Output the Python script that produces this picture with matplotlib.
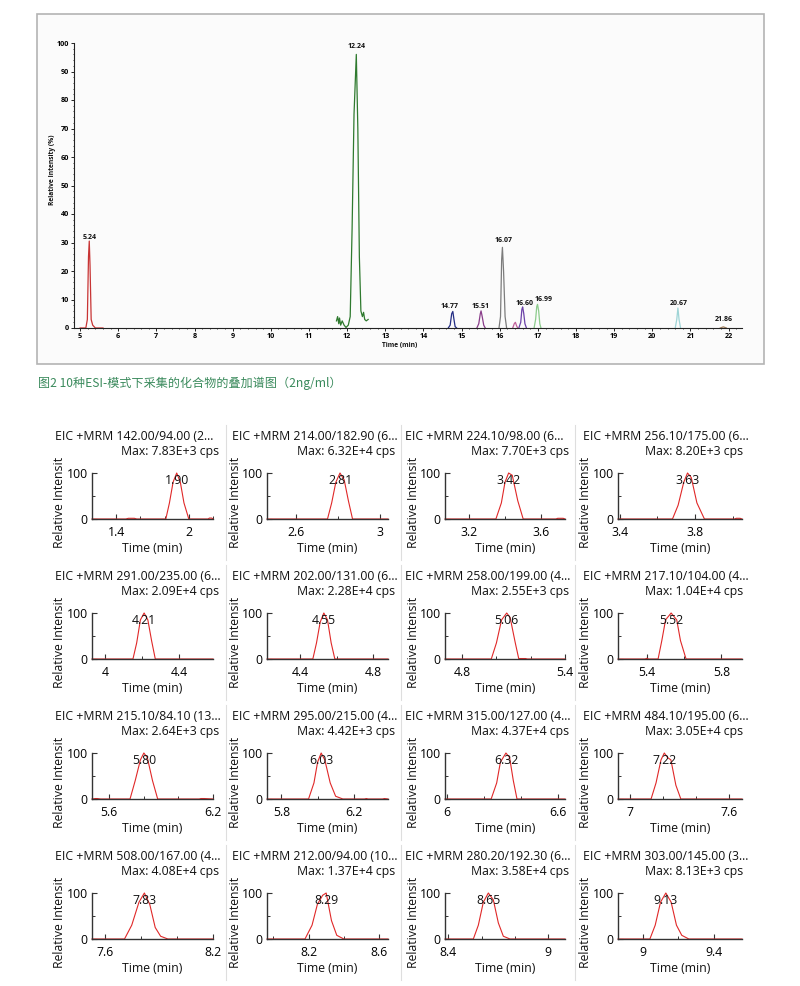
import numpy as np
import matplotlib
matplotlib.use("Agg")
import matplotlib.pyplot as plt
from matplotlib.ticker import FixedLocator, MultipleLocator, FuncFormatter
from matplotlib.transforms import Bbox
from matplotlib.patches import Rectangle
from matplotlib.lines import Line2D

W, H = 800, 986

# ---- overlay chromatogram (top) ----
top_times = [
    [5.00, 5.15, 5.19, 5.22, 5.24, 5.26, 5.29, 5.33, 5.40, 5.60],
    [11.72, 11.75, 11.78, 11.80, 11.83, 11.87, 11.92, 11.97, 12.03, 12.08, 12.13,
     12.18, 12.24, 12.28, 12.32, 12.36, 12.40, 12.43, 12.46, 12.50, 12.55],
    [14.65, 14.70, 14.74, 14.77, 14.80, 14.83, 14.87],
    [15.40, 15.45, 15.49, 15.51, 15.54, 15.58, 15.62],
    [15.98, 16.02, 16.05, 16.07, 16.10, 16.14, 16.18],
    [16.34, 16.38, 16.41, 16.44, 16.47],
    [16.50, 16.55, 16.58, 16.60, 16.63, 16.66, 16.70],
    [16.90, 16.94, 16.97, 16.99, 17.02, 17.05, 17.08],
    [20.60, 20.64, 20.67, 20.70, 20.74],
    [21.78, 21.86, 21.94],
]
top_intens = [
    [0, 0, 3, 25, 30.5, 22, 3, 1, 0, 0],
    [2.5, 4, 1.5, 3.5, 1, 2.5, 1, 0.2, 1, 4, 35, 75, 96, 70, 25, 6, 4, 5.5, 3, 2.5, 3],
    [0, 1, 5, 5.8, 3, 0.5, 0],
    [0, 1.5, 5, 6, 4, 1, 0],
    [0, 4, 24, 28.3, 20, 4, 0],
    [0, 1.5, 2, 0.8, 0],
    [0, 2, 6.5, 7.4, 5, 1.5, 0],
    [0, 3, 7.5, 8.3, 6, 1.5, 0],
    [0, 3, 7, 3, 0],
    [0, 0.4, 0],
]
top_peak_labels = ["5.24", "12.24", "14.77", "15.51", "16.07", "", "16.60", "16.99", "20.67", "21.86"]
top_colors = ["#c83434", "#2f7a2f", "#232d84", "#8a3d8a", "#7c7c7c", "#c0609a",
              "#6b42a8", "#8ccc8c", "#9ed4d6", "#a08060"]
top_label_offsets = [(0, 4), (0, 8), (-3, 5), (0, 4), (1, 7), (0, 0), (2, 3), (6, 5), (1, 5), (0, 7)]

caption = "图2 10种ESI-模式下采集的化合物的叠加谱图（2ng/ml）"

# ---- EIC panels (bottom grid) ----
eic_titles = [
    "EIC +MRM 142.00/94.00 (2...", "EIC +MRM 214.00/182.90 (6...",
    "EIC +MRM 224.10/98.00 (6...", "EIC +MRM 256.10/175.00 (6...",
    "EIC +MRM 291.00/235.00 (6...", "EIC +MRM 202.00/131.00 (6...",
    "EIC +MRM 258.00/199.00 (4...", "EIC +MRM 217.10/104.00 (4...",
    "EIC +MRM 215.10/84.10 (13...", "EIC +MRM 295.00/215.00 (4...",
    "EIC +MRM 315.00/127.00 (4...", "EIC +MRM 484.10/195.00 (6...",
    "EIC +MRM 508.00/167.00 (4...", "EIC +MRM 212.00/94.00 (10...",
    "EIC +MRM 280.20/192.30 (6...", "EIC +MRM 303.00/145.00 (3...",
]
eic_max = ["7.83E+3", "6.32E+4", "7.70E+3", "8.20E+3", "2.09E+4", "2.28E+4", "2.55E+3", "1.04E+4",
           "2.64E+3", "4.42E+3", "4.37E+4", "3.05E+4", "4.08E+4", "1.37E+4", "3.58E+4", "8.13E+3"]
eic_rt = ["1.90", "2.81", "3.42", "3.63", "4.21", "4.55", "5.06", "5.52",
          "5.80", "6.03", "6.32", "7.22", "7.83", "8.29", "8.65", "9.13"]
eic_xlim = [(1.2, 2.2), (2.46, 3.04), (3.07, 3.73), (3.39, 4.05),
            (3.93, 4.58), (4.22, 4.88), (4.70, 5.40), (5.245, 5.91),
            (5.50, 6.20), (5.72, 6.39), (5.99, 6.64), (6.93, 7.68),
            (7.53, 8.20), (7.965, 8.65), (8.38, 9.10), (8.86, 9.56)]
eic_xticks = [(1.4, 2), (2.6, 3), (3.2, 3.6), (3.4, 3.8), (4, 4.4), (4.4, 4.8), (4.8, 5.4), (5.4, 5.8),
              (5.6, 6.2), (5.8, 6.2), (6, 6.6), (7, 7.6), (7.6, 8.2), (8.2, 8.6), (8.4, 9), (9, 9.4)]
eic_times = [
    [1.20, 1.48, 1.50, 1.55, 1.57, 1.81, 1.84, 1.87, 1.90, 1.93, 1.96, 2.00, 2.16, 2.17, 2.19, 2.20],
    [2.46, 2.75, 2.77, 2.79, 2.81, 2.83, 2.85, 2.87, 3.04],
    [3.07, 3.35, 3.38, 3.40, 3.42, 3.44, 3.47, 3.50, 3.68, 3.69, 3.72, 3.73],
    [3.39, 3.68, 3.71, 3.74, 3.76, 3.78, 3.81, 3.85, 4.01, 4.02, 4.04, 4.05],
    [3.93, 4.15, 4.17, 4.19, 4.21, 4.23, 4.25, 4.27, 4.58],
    [4.22, 4.47, 4.49, 4.51, 4.53, 4.55, 4.57, 4.59, 4.88],
    [4.70, 4.97, 5.00, 5.03, 5.06, 5.08, 5.11, 5.13, 5.14, 5.17, 5.18, 5.40],
    [5.245, 5.39, 5.40, 5.41, 5.46, 5.48, 5.50, 5.53, 5.56, 5.58, 5.61, 5.91],
    [5.50, 5.52, 5.53, 5.55, 5.72, 5.75, 5.78, 5.80, 5.82, 5.85, 5.88, 6.12, 6.13, 6.15, 6.20],
    [5.72, 5.95, 5.98, 6.00, 6.02, 6.04, 6.07, 6.10, 6.14, 6.26, 6.27, 6.28, 6.36, 6.37, 6.39],
    [5.99, 6.24, 6.27, 6.29, 6.32, 6.34, 6.36, 6.38, 6.64],
    [6.93, 7.13, 7.16, 7.19, 7.21, 7.23, 7.25, 7.28, 7.31, 7.68],
    [7.53, 7.71, 7.75, 7.79, 7.82, 7.85, 7.88, 7.91, 7.95, 8.20],
    [7.965, 8.18, 8.22, 8.25, 8.28, 8.30, 8.33, 8.36, 8.40, 8.65],
    [8.38, 8.55, 8.58, 8.61, 8.64, 8.67, 8.70, 8.73, 8.77, 9.10],
    [8.86, 9.04, 9.07, 9.10, 9.13, 9.16, 9.19, 9.22, 9.26, 9.56],
]
eic_intens = [
    [0, 0, 1.5, 1.5, 0, 0, 35, 80, 100, 80, 35, 0, 0, 2, 2, 0],
    [0, 0, 35, 80, 100, 85, 40, 0, 0],
    [0, 0, 35, 80, 100, 95, 40, 0, 0, 1.5, 1.5, 0],
    [0, 0, 30, 80, 100, 90, 35, 0, 0, 1.5, 1.5, 0],
    [0, 0, 35, 85, 100, 85, 40, 0, 0],
    [0, 0, 35, 80, 100, 85, 35, 0, 0],
    [0, 0, 35, 85, 100, 90, 35, 1, 1, 1, 0, 0],
    [0, 0, 1.5, 0, 0, 40, 85, 100, 85, 40, 0, 0],
    [0, 1, 1, 0, 0, 40, 85, 100, 90, 40, 0, 0, 1, 1, 0],
    [0, 0, 35, 80, 100, 85, 35, 6, 0, 0, 1, 0, 0, 1, 0],
    [0, 0, 35, 80, 100, 90, 40, 0, 0],
    [0, 0, 35, 85, 100, 90, 85, 30, 0, 0],
    [0, 0, 30, 80, 100, 75, 25, 6, 0, 0],
    [0, 0, 30, 75, 95, 100, 40, 8, 0, 0],
    [0, 0, 30, 80, 100, 85, 35, 6, 0, 0],
    [0, 0, 30, 80, 100, 80, 30, 8, 0, 0],
]


def rect(left, top, right, bottom):
    # pixel box (image coords, origin top-left) -> figure fraction
    return [left / W, 1 - bottom / H, (right - left) / W, (bottom - top) / H]


plt.rcParams["font.family"] = ["Open Sans", "DejaVu Sans"]
fig = plt.figure(figsize=(W / 100, H / 100), dpi=100)
fig.patch.set_facecolor("white")

# frame around the overlay chart (kept behind the axes)
fig.add_artist(Rectangle((37 / W, 1 - 364 / H), (764 - 37) / W, (364 - 14) / H,
                         transform=fig.transFigure, facecolor="#fbfbfb",
                         edgecolor="#b4b4b4", linewidth=1.2, zorder=-5))

ax = fig.add_axes(rect(74, 43, 742, 328))
ax.set_facecolor("none")
for t, y, c in zip(top_times, top_intens, top_colors):
    ax.plot(t, y, color=c, lw=0.9, clip_on=False)
for t, y, lab, (dx, dy) in zip(top_times, top_intens, top_peak_labels, top_label_offsets):
    if not lab:
        continue
    k = int(np.argmax(y))
    ax.annotate(lab, (t[k], y[k]), xytext=(dx * 0.72, dy * 0.72), textcoords="offset points",
                ha="center", va="center", fontsize=5.0, fontweight="bold", color="#111111")
ax.set_xlim(4.84, 22.35)
ax.set_ylim(0, 100)
for s in ["top", "right"]:
    ax.spines[s].set_visible(False)
for s in ["left", "bottom"]:
    ax.spines[s].set_linewidth(0.8)
    ax.spines[s].set_color("#222222")
ax.set_xticks(range(5, 23))
ax.xaxis.set_minor_locator(MultipleLocator(0.2))
ax.yaxis.set_major_locator(MultipleLocator(10))
ax.yaxis.set_minor_locator(MultipleLocator(2))
ax.tick_params(which="major", direction="out", length=2.2, width=0.6, labelsize=5.2, pad=1.5)
ax.tick_params(which="minor", direction="out", length=1.0, width=0.5)
for lab in ax.get_xticklabels() + ax.get_yticklabels():
    lab.set_fontweight("bold")
fig.text(400 / W, 1 - 346 / H, "Time (min)", ha="center", va="center",
         fontsize=4.8, fontweight="bold", color="#111111")
fig.text(53 / W, 1 - 170 / H, "Relative Intensity (%)", rotation=90, ha="center", va="center",
         fontsize=4.8, fontweight="bold", color="#111111")

fig.text(38 / W, 1 - 383 / H, caption, ha="left", va="center", fontsize=8.7,
         color="#3a8a5c", family=["Noto Sans CJK SC", "DejaVu Sans"])

# ---- 4x4 grid of EIC panels ----
col_left = [92, 267, 445, 618]
col_right = [213, 388, 565, 742]
title_x = [55, 232, 405, 583]
max_x = [219, 395, 569, 743]
sep_x = [226, 401, 575]
fs = 8.8


def tick_fmt(v, pos):
    return f"{v:g}"


for i in range(16):
    r, c = divmod(i, 4)
    oy = 140 * r
    a = fig.add_axes(rect(col_left[c], 473 + oy, col_right[c], 519 + oy))
    a.set_facecolor("none")
    a.plot(eic_times[i], eic_intens[i], color="#e02828", lw=0.8, zorder=2, clip_on=False)
    k = int(np.argmax(eic_intens[i]))
    a.text(eic_times[i][k], 83, eic_rt[i], ha="center", va="center", fontsize=fs,
           color="#111111", zorder=5)
    a.set_xlim(*eic_xlim[i])
    a.set_ylim(0, 100)
    for s in ["top", "right"]:
        a.spines[s].set_visible(False)
    for s in ["left", "bottom"]:
        a.spines[s].set_linewidth(1.0)
        a.spines[s].set_color("#333333")
        a.spines[s].set_zorder(3)
    a.xaxis.set_major_locator(FixedLocator(list(eic_xticks[i])))
    a.xaxis.set_minor_locator(MultipleLocator(0.2))
    a.xaxis.set_major_formatter(FuncFormatter(tick_fmt))
    a.yaxis.set_major_locator(FixedLocator([0, 100]))
    a.yaxis.set_minor_locator(FixedLocator([50]))
    a.tick_params(which="major", direction="in", length=3.6, width=0.8, labelsize=fs,
                  color="#333333")
    a.tick_params(axis="x", which="major", pad=5)
    a.tick_params(axis="y", which="major", pad=3)
    a.tick_params(which="minor", direction="in", length=2.0, width=0.7, color="#333333")

    fig.text(title_x[c] / W, 1 - (437 + oy) / H, eic_titles[i], ha="left", va="center",
             fontsize=fs, color="#111111")
    fig.text(max_x[c] / W, 1 - (452 + oy) / H, f"Max: {eic_max[i]} cps", ha="right",
             va="center", fontsize=fs, color="#111111")
    fig.text((col_left[c] + col_right[c]) / 2 / W, 1 - (549 + oy) / H, "Time (min)",
             ha="center", va="center", fontsize=fs, color="#111111")
    yl = fig.text((col_left[c] - 32) / W, 1 - (548 + oy) / H, "Relative Intensity",
                  rotation=90, ha="center", va="bottom", fontsize=fs, color="#111111")
    # the reference cuts the label off just under the "Max:" line
    yl.set_clip_box(Bbox.from_extents(col_left[c] - 45, H - (560 + oy), col_left[c] - 20,
                                      H - (458 + oy)))
    yl.set_clip_on(True)

for r in range(4):
    oy = 140 * r
    for x in sep_x:
        fig.add_artist(Line2D([x / W, x / W], [1 - (425 + oy) / H, 1 - (560 + oy) / H],
                              transform=fig.transFigure, color="#dedede", lw=0.8))

fig.savefig("out.png", dpi=100)
